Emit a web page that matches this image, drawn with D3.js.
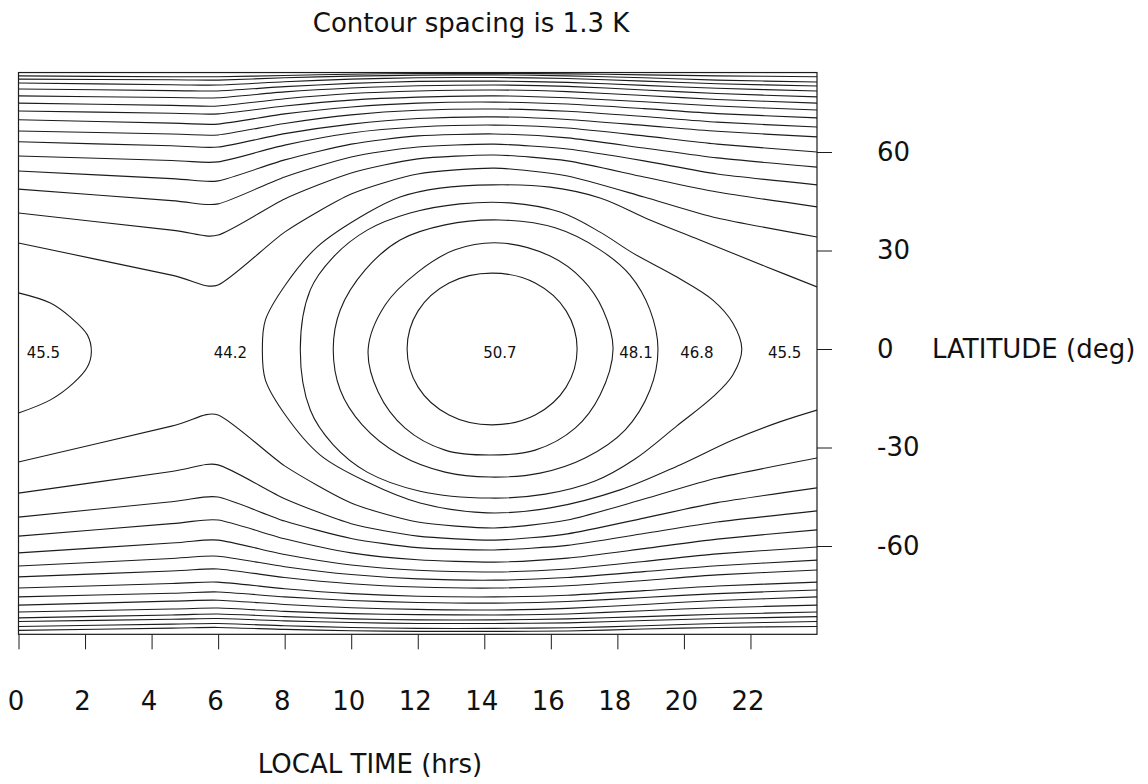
<!doctype html>
<html lang="en">
<head>
<meta charset="utf-8">
<title>Contour spacing is 1.3 K</title>
<script src="https://cdn.jsdelivr.net/npm/d3@7"></script>
<style>
  body { margin: 0; background: #fff; }
  svg text { font-family: "DejaVu Sans", "Liberation Sans", sans-serif; fill: #111; }
</style>
</head>
<body>
<div id="chart"></div>
<script>
// ---- data (hours, latitude in deg) ----
const lineHours = [0, 4.6, 6, 8, 10, 12, 14.3, 16.5, 18.8, 21, 24];

// open contours north of the warm oval, 44.2 K poleward, 1.3 K apart
const northLevels = [44.2, 42.9, 41.6, 40.3, 39.0, 37.7, 36.4, 35.1, 33.8, 32.5, 31.2, 29.9, 28.6, 27.3, 26.0];
const northLats = [
  [32.3, 22.5, 19.5, 35.6, 47.2, 53.3, 55.1, 52.7, 46.3, 39.9, 34.1],
  [41.4, 36.2, 34.7, 45.7, 53.6, 57.9, 59.1, 57.3, 52.4, 47.8, 43.3],
  [48.7, 45.2, 44.2, 52.4, 58.5, 61.5, 62.4, 60.9, 57.3, 53.3, 50.0],
  [54.2, 51.9, 51.2, 57.6, 62.4, 64.9, 65.5, 64.3, 61.2, 58.2, 55.4],
  [58.8, 57.4, 57.0, 62.1, 65.8, 67.6, 68.2, 67.3, 64.9, 62.4, 60.0],
  [63.1, 61.9, 61.5, 65.6, 68.5, 70.2, 70.7, 69.9, 68.1, 66.3, 64.6],
  [66.4, 65.5, 65.2, 68.7, 71.3, 72.7, 73.1, 72.4, 70.8, 69.1, 67.6],
  [69.8, 68.8, 68.5, 71.6, 73.7, 74.9, 75.2, 74.6, 73.2, 71.7, 70.4],
  [72.5, 71.8, 71.6, 74.0, 75.8, 76.7, 77.1, 76.5, 75.3, 74.0, 72.8],
  [74.9, 74.2, 74.0, 76.2, 77.8, 78.6, 78.9, 78.4, 77.2, 76.0, 74.9],
  [77.1, 76.6, 76.5, 78.3, 79.5, 80.2, 80.4, 80.0, 78.9, 77.8, 76.8],
  [79.2, 78.7, 78.6, 79.9, 80.9, 81.5, 81.6, 81.2, 80.3, 79.4, 78.6],
  [81.0, 80.5, 80.4, 81.4, 82.2, 82.6, 82.7, 82.4, 81.6, 80.8, 80.1],
  [82.2, 82.0, 81.9, 82.6, 83.1, 83.4, 83.5, 83.2, 82.6, 81.9, 81.3],
  [83.2, 82.9, 82.9, 83.3, 83.7, 83.9, 83.9, 83.8, 83.5, 83.2, 82.9]
];

const southLevels = northLevels;
const southLats = [
  [-34.4, -23.5, -20.1, -35.6, -46.9, -52.7, -54.5, -52.1, -45.7, -39.3, -33.2],
  [-43.9, -37.3, -35.3, -45.6, -53.2, -57.0, -58.2, -56.3, -51.5, -46.8, -42.3],
  [-51.2, -46.5, -45.1, -52.4, -57.7, -60.5, -61.2, -59.8, -56.2, -52.7, -49.3],
  [-57.0, -53.2, -52.1, -57.8, -62.1, -64.2, -64.9, -63.7, -60.8, -57.9, -55.1],
  [-62.1, -59.1, -58.2, -62.6, -65.8, -67.4, -67.9, -67.0, -64.7, -62.4, -60.3],
  [-66.1, -63.8, -63.1, -66.3, -68.7, -70.0, -70.4, -69.6, -67.8, -66.0, -64.3],
  [-69.4, -67.6, -67.0, -69.6, -71.5, -72.5, -72.8, -72.1, -70.5, -68.8, -67.3],
  [-72.8, -71.4, -71.0, -73.0, -74.5, -75.3, -75.5, -75.0, -73.6, -72.2, -71.0],
  [-75.5, -74.4, -74.0, -75.5, -76.6, -77.2, -77.4, -76.9, -75.7, -74.5, -73.4],
  [-78.0, -76.8, -76.5, -77.8, -78.8, -79.3, -79.5, -79.0, -77.8, -76.6, -75.5],
  [-80.1, -79.2, -78.9, -79.9, -80.6, -80.9, -81.0, -80.7, -79.7, -78.8, -78.0],
  [-81.9, -81.0, -80.7, -81.5, -82.2, -82.5, -82.5, -82.2, -81.5, -80.8, -80.1],
  [-83.0, -82.3, -82.1, -82.8, -83.3, -83.6, -83.6, -83.4, -82.7, -82.1, -81.5],
  [-84.5, -83.8, -83.6, -84.3, -84.8, -85.1, -85.1, -84.9, -84.3, -83.6, -83.0],
  [-85.7, -85.0, -84.8, -85.4, -85.8, -86.0, -86.0, -85.9, -85.3, -84.8, -84.5]
];

// closed contours around the afternoon maximum, [hour, lat]
const ovalLevels = [50.7, 49.4, 48.1, 46.8];
const ovals = [
  [[16.79, 0], [16.46, 11.6], [15.53, 20.1], [14.23, 23.1], [12.94, 20.1], [12.01, 11.6],
   [11.68, 0], [12.01, -11.6], [12.94, -20.1], [14.23, -23.1], [15.53, -20.1], [16.46, -11.6]],
  [[17.87, 0], [17.57, 11.9], [16.97, 21.0], [15.98, 28.3], [14.47, 32.3], [13.12, 30.2], [12.01, 23.5],
   [11.02, 13.4], [10.51, 0], [10.81, -13.1], [11.62, -24.1], [12.82, -30.8], [14.17, -32.3],
   [15.53, -30.8], [16.73, -24.1], [17.48, -14.0]],
  [[19.22, 0], [18.98, 11.9], [18.38, 22.5], [17.48, 30.2], [16.13, 36.9], [14.47, 39.3], [12.82, 37.8],
   [11.47, 33.2], [10.42, 24.1], [9.67, 11.9], [9.46, 0], [9.67, -12.5], [10.33, -23.1], [11.47, -32.3],
   [12.82, -37.5], [14.17, -39.0], [15.68, -37.8], [17.03, -33.2], [18.23, -24.7], [18.98, -12.5]],
  [[21.74, 0], [21.47, 7.9], [20.87, 14.9], [19.79, 21.9], [18.47, 29.2], [17.48, 35.6], [16.28, 41.7],
   [14.77, 44.5], [13.27, 44.2], [11.77, 41.4], [10.48, 36.2], [9.46, 28.0], [8.77, 18.0], [8.47, 0],
   [8.77, -18.6], [9.46, -29.2], [10.48, -37.5], [12.07, -43.3], [14.17, -45.4], [15.83, -44.2],
   [17.33, -40.2], [18.53, -33.5], [19.79, -23.4], [20.87, -14.6], [21.47, -7.9]]
];

// 45.5 K: C-shaped contour open to the right edge, plus the midnight bubble
const c455 = [[24, 18.9], [22.49, 25.0], [20.48, 33.2], [18.98, 39.3], [17.48, 46.0], [15.98, 49.3],
  [14.26, 50.0], [12.67, 49.0], [11.47, 46.3], [10.48, 41.4], [8.98, 31.1], [8.02, 19.5], [7.42, 8.8],
  [7.33, 0], [7.42, -9.4], [8.02, -20.1], [9.07, -32.3], [10.48, -40.5], [12.07, -46.9], [14.08, -49.9],
  [15.98, -48.4], [18.08, -42.9], [19.88, -35.3], [21.47, -27.7], [22.88, -22.2], [24, -18.6]];
const bubble455 = [[0, 17.1], [0.96, 14.0], [1.56, 9.7], [2.07, 4.3], [2.19, -0.9], [2.07, -5.5],
  [1.65, -10.4], [0.96, -15.5], [0, -19.5]];

const labelText = ["45.5", "44.2", "50.7", "48.1", "46.8", "45.5"];
const labelHours = [0.75, 6.37, 14.47, 18.56, 20.39, 23.03];
const labelLats = [-1.2, -1.2, -1.2, -1.2, -1.2, -1.2];

const xTicks = [0, 2, 4, 6, 8, 10, 12, 14, 16, 18, 20, 22];
const yTicks = [60, 30, 0, -30, -60];
const latRange = [-86.9, 84.2];

// ---- drawing ----
const W = 1148, H = 784;
const x = d3.scaleLinear().domain([0, 24]).range([18.5, 817]);
const y = d3.scaleLinear().domain([-90, 90]).range([644.5, 53.5]);

const svg = d3.select("#chart").append("svg")
  .attr("width", W).attr("height", H)
  .style("background", "#fff");

const x0 = x(0), x1 = x(24), yTop = y(latRange[1]), yBot = y(latRange[0]);

svg.append("clipPath").attr("id", "plot")
  .append("rect").attr("x", x0).attr("y", yTop).attr("width", x1 - x0).attr("height", yBot - yTop);

const g = svg.append("g").attr("clip-path", "url(#plot)");

// cardinal with some tension keeps the 6 h kinks fairly sharp
const line = d3.line().x(d => x(d[0])).y(d => y(d[1])).curve(d3.curveCardinal.tension(0.35));
const closed = d3.line().x(d => x(d[0])).y(d => y(d[1])).curve(d3.curveCatmullRomClosed.alpha(0.5));

const stroke = "#1c1c1c";

const bands = northLats.concat(southLats).map(lats => lats.map((v, i) => [lineHours[i], v]));
g.selectAll("path.band").data(bands).join("path")
  .attr("class", "band")
  .attr("d", line)
  .attr("fill", "none").attr("stroke", stroke).attr("stroke-width", 1.1);

g.selectAll("path.oval").data(ovals).join("path")
  .attr("class", "oval")
  .attr("d", closed)
  .attr("fill", "none").attr("stroke", stroke).attr("stroke-width", 1.1);

g.selectAll("path.c455").data([c455, bubble455]).join("path")
  .attr("class", "c455")
  .attr("d", d3.line().x(d => x(d[0])).y(d => y(d[1])).curve(d3.curveCatmullRom.alpha(0.5)))
  .attr("fill", "none").attr("stroke", stroke).attr("stroke-width", 1.1);

// frame
svg.append("rect")
  .attr("x", x0).attr("y", yTop).attr("width", x1 - x0).attr("height", yBot - yTop)
  .attr("fill", "none").attr("stroke", stroke).attr("stroke-width", 1.2);

// region labels
svg.selectAll("text.lab").data(labelText).join("text")
  .attr("class", "lab")
  .attr("x", (d, i) => x(labelHours[i]))
  .attr("y", (d, i) => y(labelLats[i]))
  .attr("dy", "0.35em")
  .attr("text-anchor", "middle")
  .style("font-size", "15px")
  .text(d => d);

const fmt = d => String(d);

// bottom axis
const ax = svg.append("g").attr("transform", `translate(0,${yBot})`)
  .call(d3.axisBottom(x).tickValues(xTicks).tickSize(15).tickPadding(42).tickFormat(fmt));
ax.select(".domain").remove();
ax.selectAll("line").attr("stroke", stroke);
ax.selectAll("text").attr("dx", -3).style("font-size", "26px").style("font-family", "DejaVu Sans");

// right axis
const ay = svg.append("g").attr("transform", `translate(${x1},0)`)
  .call(d3.axisRight(y).tickValues(yTicks).tickSize(15).tickPadding(45).tickFormat(fmt));
ay.select(".domain").remove();
ay.selectAll("line").attr("stroke", stroke);
ay.selectAll("text").style("font-size", "26px").style("font-family", "DejaVu Sans");

svg.append("text")
  .attr("x", 932).attr("y", y(0)).attr("dy", "0.35em")
  .style("font-size", "26px")
  .text("LATITUDE (deg)");

svg.append("text")
  .attr("x", 370).attr("y", 773)
  .attr("text-anchor", "middle")
  .style("font-size", "26px")
  .text("LOCAL TIME (hrs)");

svg.append("text")
  .attr("x", 471).attr("y", 32)
  .attr("text-anchor", "middle")
  .style("font-size", "26px")
  .text("Contour spacing is 1.3 K");
</script>
</body>
</html>
